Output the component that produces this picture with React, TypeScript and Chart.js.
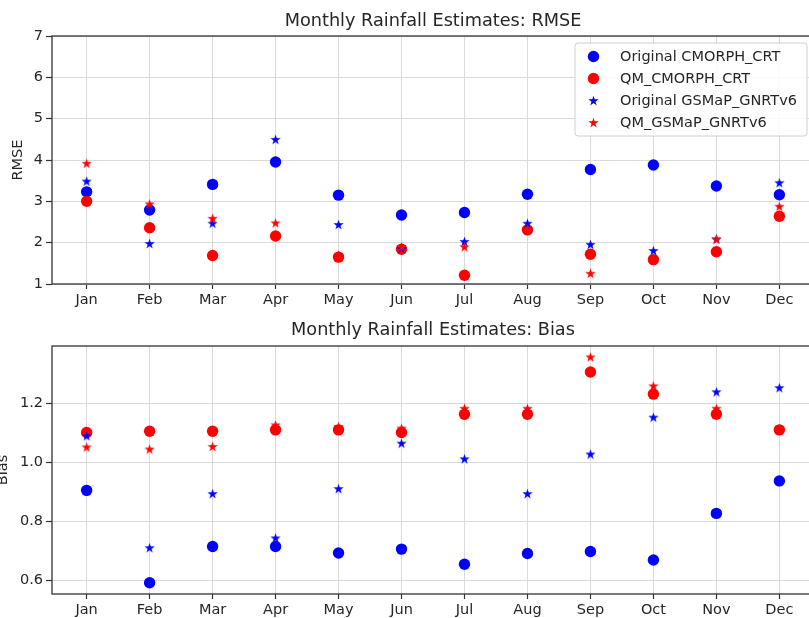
import React, { useEffect, useRef } from 'react';
import { Chart, registerables } from 'chart.js';

Chart.register(...registerables);

// ---------- data ----------
const MONTHS = ['Jan', 'Feb', 'Mar', 'Apr', 'May', 'Jun', 'Jul', 'Aug', 'Sep', 'Oct', 'Nov', 'Dec'];
const SERIES_NAMES = ['Original CMORPH_CRT', 'QM_CMORPH_CRT', 'Original GSMaP_GNRTv6', 'QM_GSMaP_GNRTv6'];

const RMSE_TICKS = [1, 2, 3, 4, 5, 6, 7];
const BIAS_TICKS = [0.6, 0.8, 1.0, 1.2];

const rmseOrigCmorph = [3.23, 2.79, 3.41, 3.95, 3.15, 2.67, 2.73, 3.17, 3.77, 3.88, 3.37, 3.16];
const rmseQmCmorph = [3.0, 2.36, 1.69, 2.16, 1.65, 1.84, 1.21, 2.31, 1.72, 1.59, 1.78, 2.64];
const rmseOrigGsmap = [3.49, 1.98, 2.47, 4.5, 2.44, 1.86, 2.03, 2.47, 1.96, 1.81, 2.09, 3.45];
const rmseQmGsmap = [3.92, 2.94, 2.59, 2.48, 1.7, 1.9, 1.9, 2.32, 1.26, 1.6, 2.09, 2.88];

const biasOrigCmorph = [0.906, 0.593, 0.716, 0.716, 0.694, 0.707, 0.656, 0.692, 0.699, 0.67, 0.828, 0.938];
const biasQmCmorph = [1.102, 1.106, 1.106, 1.111, 1.111, 1.102, 1.164, 1.164, 1.307, 1.232, 1.164, 1.111];
const biasOrigGsmap = [1.091, 0.712, 0.895, 0.745, 0.912, 1.066, 1.013, 0.895, 1.029, 1.154, 1.24, 1.254];
const biasQmGsmap = [1.053, 1.046, 1.055, 1.128, 1.122, 1.117, 1.184, 1.184, 1.358, 1.26, 1.184, 1.115];

// ---------- styling ----------
const FONT = 'DejaVu Sans';
const TEXT = '#262626';
const GRID = '#dadada';
const FRAME = '#333333';
const SERIES_COLORS = ['#0000ff', '#ff0000', '#0000ff', '#ff0000'];
const SERIES_STAR = [false, false, true, true];
const CIRCLE_R = 5.7;
const STAR_R = 5.4;
const TICK_FONT = 14.5;
const TITLE_FONT = 17.7;

function makeStar(color: string, R: number): HTMLCanvasElement {
  const size = Math.ceil(R * 2 + 2);
  const c = document.createElement('canvas');
  c.width = size;
  c.height = size;
  const g = c.getContext('2d')!;
  const cx = size / 2;
  const cy = size / 2 + R * 0.1;
  const r = R * 0.381966;
  g.beginPath();
  for (let i = 0; i < 10; i++) {
    const rad = i % 2 === 0 ? R : r;
    const a = -Math.PI / 2 + (i * Math.PI) / 5;
    const x = cx + rad * Math.cos(a);
    const y = cy + rad * Math.sin(a);
    if (i === 0) g.moveTo(x, y);
    else g.lineTo(x, y);
  }
  g.closePath();
  g.fillStyle = color;
  g.fill();
  return c;
}

const framePlugin = {
  id: 'frame',
  afterDraw(chart: any) {
    const { ctx, chartArea: a } = chart;
    ctx.save();
    ctx.strokeStyle = FRAME;
    ctx.lineWidth = 1.3;
    ctx.strokeRect(a.left, a.top, a.right - a.left, a.bottom - a.top);
    ctx.restore();
  },
};

function makeLegendPlugin(stars: (HTMLCanvasElement | null)[]) {
  return {
    id: 'innerLegend',
    afterDraw(chart: any) {
      const { ctx, chartArea: a } = chart;
      const right = a.right - 7;
      const top = a.top + 7;
      const w = 232;
      const h = 93;
      const left = right - w;
      ctx.save();
      ctx.beginPath();
      if (ctx.roundRect) ctx.roundRect(left, top, w, h, 3);
      else ctx.rect(left, top, w, h);
      ctx.fillStyle = 'rgba(255,255,255,0.85)';
      ctx.fill();
      ctx.strokeStyle = '#d0d0d0';
      ctx.lineWidth = 1;
      ctx.stroke();
      ctx.font = `${TICK_FONT}px "${FONT}"`;
      ctx.textBaseline = 'middle';
      ctx.textAlign = 'left';
      SERIES_NAMES.forEach((name, i) => {
        const cy = top + 13.5 + i * 22;
        const mx = left + 18.5;
        const st = stars[i];
        if (st) {
          ctx.drawImage(st, mx - st.width / 2, cy - st.height / 2);
        } else {
          ctx.beginPath();
          ctx.arc(mx, cy, CIRCLE_R, 0, Math.PI * 2);
          ctx.fillStyle = SERIES_COLORS[i];
          ctx.fill();
        }
        ctx.fillStyle = TEXT;
        ctx.fillText(name, left + 45, cy + 1);
      });
      ctx.restore();
    },
  };
}

function buildDatasets(series: number[][], stars: (HTMLCanvasElement | null)[]) {
  return series.map((vals, i) => ({
    label: SERIES_NAMES[i],
    data: vals.map((v, j) => ({ x: j, y: v })),
    pointStyle: stars[i] ? (stars[i] as any) : 'circle',
    pointRadius: CIRCLE_R,
    pointBackgroundColor: SERIES_COLORS[i],
    pointBorderColor: SERIES_COLORS[i],
    pointBorderWidth: 0,
    pointHoverRadius: CIRCLE_R,
    showLine: false,
    order: 4 - i,
  }));
}

function makeConfig(opts: {
  title: string;
  yTitle: string;
  yTitlePad: number;
  titlePadTop: number;
  yMin: number;
  yMax: number;
  yTicks: number[];
  yFmt: (v: number) => string;
  xAxisHeight: number;
  series: number[][];
  stars: (HTMLCanvasElement | null)[];
  plugins: any[];
}) {
  const titleLH = TITLE_FONT * 1.2;
  return {
    type: 'scatter' as const,
    data: { datasets: buildDatasets(opts.series, opts.stars) },
    plugins: opts.plugins,
    options: {
      animation: false as const,
      responsive: false,
      devicePixelRatio: 1,
      events: [],
      layout: { padding: 0, autoPadding: false },
      plugins: {
        legend: { display: false },
        tooltip: { enabled: false },
        title: {
          display: true,
          text: opts.title,
          fullSize: false,
          color: TEXT,
          font: { family: FONT, size: TITLE_FONT, weight: 'normal' as const, lineHeight: 1.2 },
          padding: { top: opts.titlePadTop, bottom: 36 - opts.titlePadTop - titleLH },
        },
      },
      scales: {
        x: {
          type: 'linear' as const,
          min: -0.55,
          max: 11.55,
          afterBuildTicks(scale: any) {
            scale.ticks = MONTHS.map((_, i) => ({ value: i }));
          },
          afterFit(scale: any) {
            scale.height = opts.xAxisHeight;
            scale.paddingLeft = 0;
            scale.paddingRight = 0;
          },
          ticks: {
            autoSkip: false,
            maxRotation: 0,
            color: TEXT,
            padding: 3,
            font: { family: FONT, size: TICK_FONT },
            callback: (v: any) => MONTHS[Math.round(Number(v))] ?? '',
          },
          grid: { color: GRID, lineWidth: 1, tickColor: FRAME, tickLength: 5, tickWidth: 1.2 },
          border: { display: false },
        },
        y: {
          type: 'linear' as const,
          min: opts.yMin,
          max: opts.yMax,
          afterBuildTicks(scale: any) {
            scale.ticks = opts.yTicks.map((v) => ({ value: v }));
          },
          afterFit(scale: any) {
            scale.width = 52;
            scale.paddingTop = 0;
            scale.paddingBottom = 0;
          },
          ticks: {
            color: TEXT,
            padding: 3,
            font: { family: FONT, size: TICK_FONT },
            callback: (v: any) => opts.yFmt(Number(v)),
          },
          grid: { color: GRID, lineWidth: 1, tickColor: FRAME, tickLength: 6, tickWidth: 1.2 },
          border: { display: false },
          title: {
            display: true,
            text: opts.yTitle,
            color: TEXT,
            font: { family: FONT, size: TICK_FONT, lineHeight: 1.2 },
            padding: { top: opts.yTitlePad, bottom: 0 },
          },
        },
      },
    },
  };
}

export default function App() {
  const topRef = useRef<HTMLCanvasElement>(null);
  const botRef = useRef<HTMLCanvasElement>(null);

  useEffect(() => {
    const stars = SERIES_STAR.map((s, i) => (s ? makeStar(SERIES_COLORS[i], STAR_R) : null));
    const top = new Chart(
      topRef.current!,
      makeConfig({
        title: 'Monthly Rainfall Estimates: RMSE',
        yTitle: 'RMSE',
        yTitlePad: 9.8,
        titlePadTop: 11,
        yMin: 1,
        yMax: 7,
        yTicks: RMSE_TICKS,
        yFmt: (v) => String(Math.round(v)),
        xAxisHeight: 26,
        series: [rmseOrigCmorph, rmseQmCmorph, rmseOrigGsmap, rmseQmGsmap],
        stars,
        plugins: [framePlugin, makeLegendPlugin(stars)],
      }) as any
    );
    const bot = new Chart(
      botRef.current!,
      makeConfig({
        title: 'Monthly Rainfall Estimates: Bias',
        yTitle: 'Bias',
        yTitlePad: -5,
        titlePadTop: 9.4,
        yMin: 0.555,
        yMax: 1.395,
        yTicks: BIAS_TICKS,
        yFmt: (v) => v.toFixed(1),
        xAxisHeight: 46,
        series: [biasOrigCmorph, biasQmCmorph, biasOrigGsmap, biasQmGsmap],
        stars,
        plugins: [framePlugin],
      }) as any
    );
    return () => {
      top.destroy();
      bot.destroy();
    };
  }, []);

  return (
    <div
      style={{
        position: 'fixed',
        left: 0,
        top: 0,
        width: 809,
        height: 618,
        overflow: 'hidden',
        background: '#ffffff',
      }}
    >
      <canvas
        ref={topRef}
        width={814}
        height={310}
        style={{ position: 'absolute', left: 0, top: 0, width: 814, height: 310, display: 'block' }}
      />
      <canvas
        ref={botRef}
        width={814}
        height={330}
        style={{ position: 'absolute', left: 0, top: 310, width: 814, height: 330, display: 'block' }}
      />
    </div>
  );
}
